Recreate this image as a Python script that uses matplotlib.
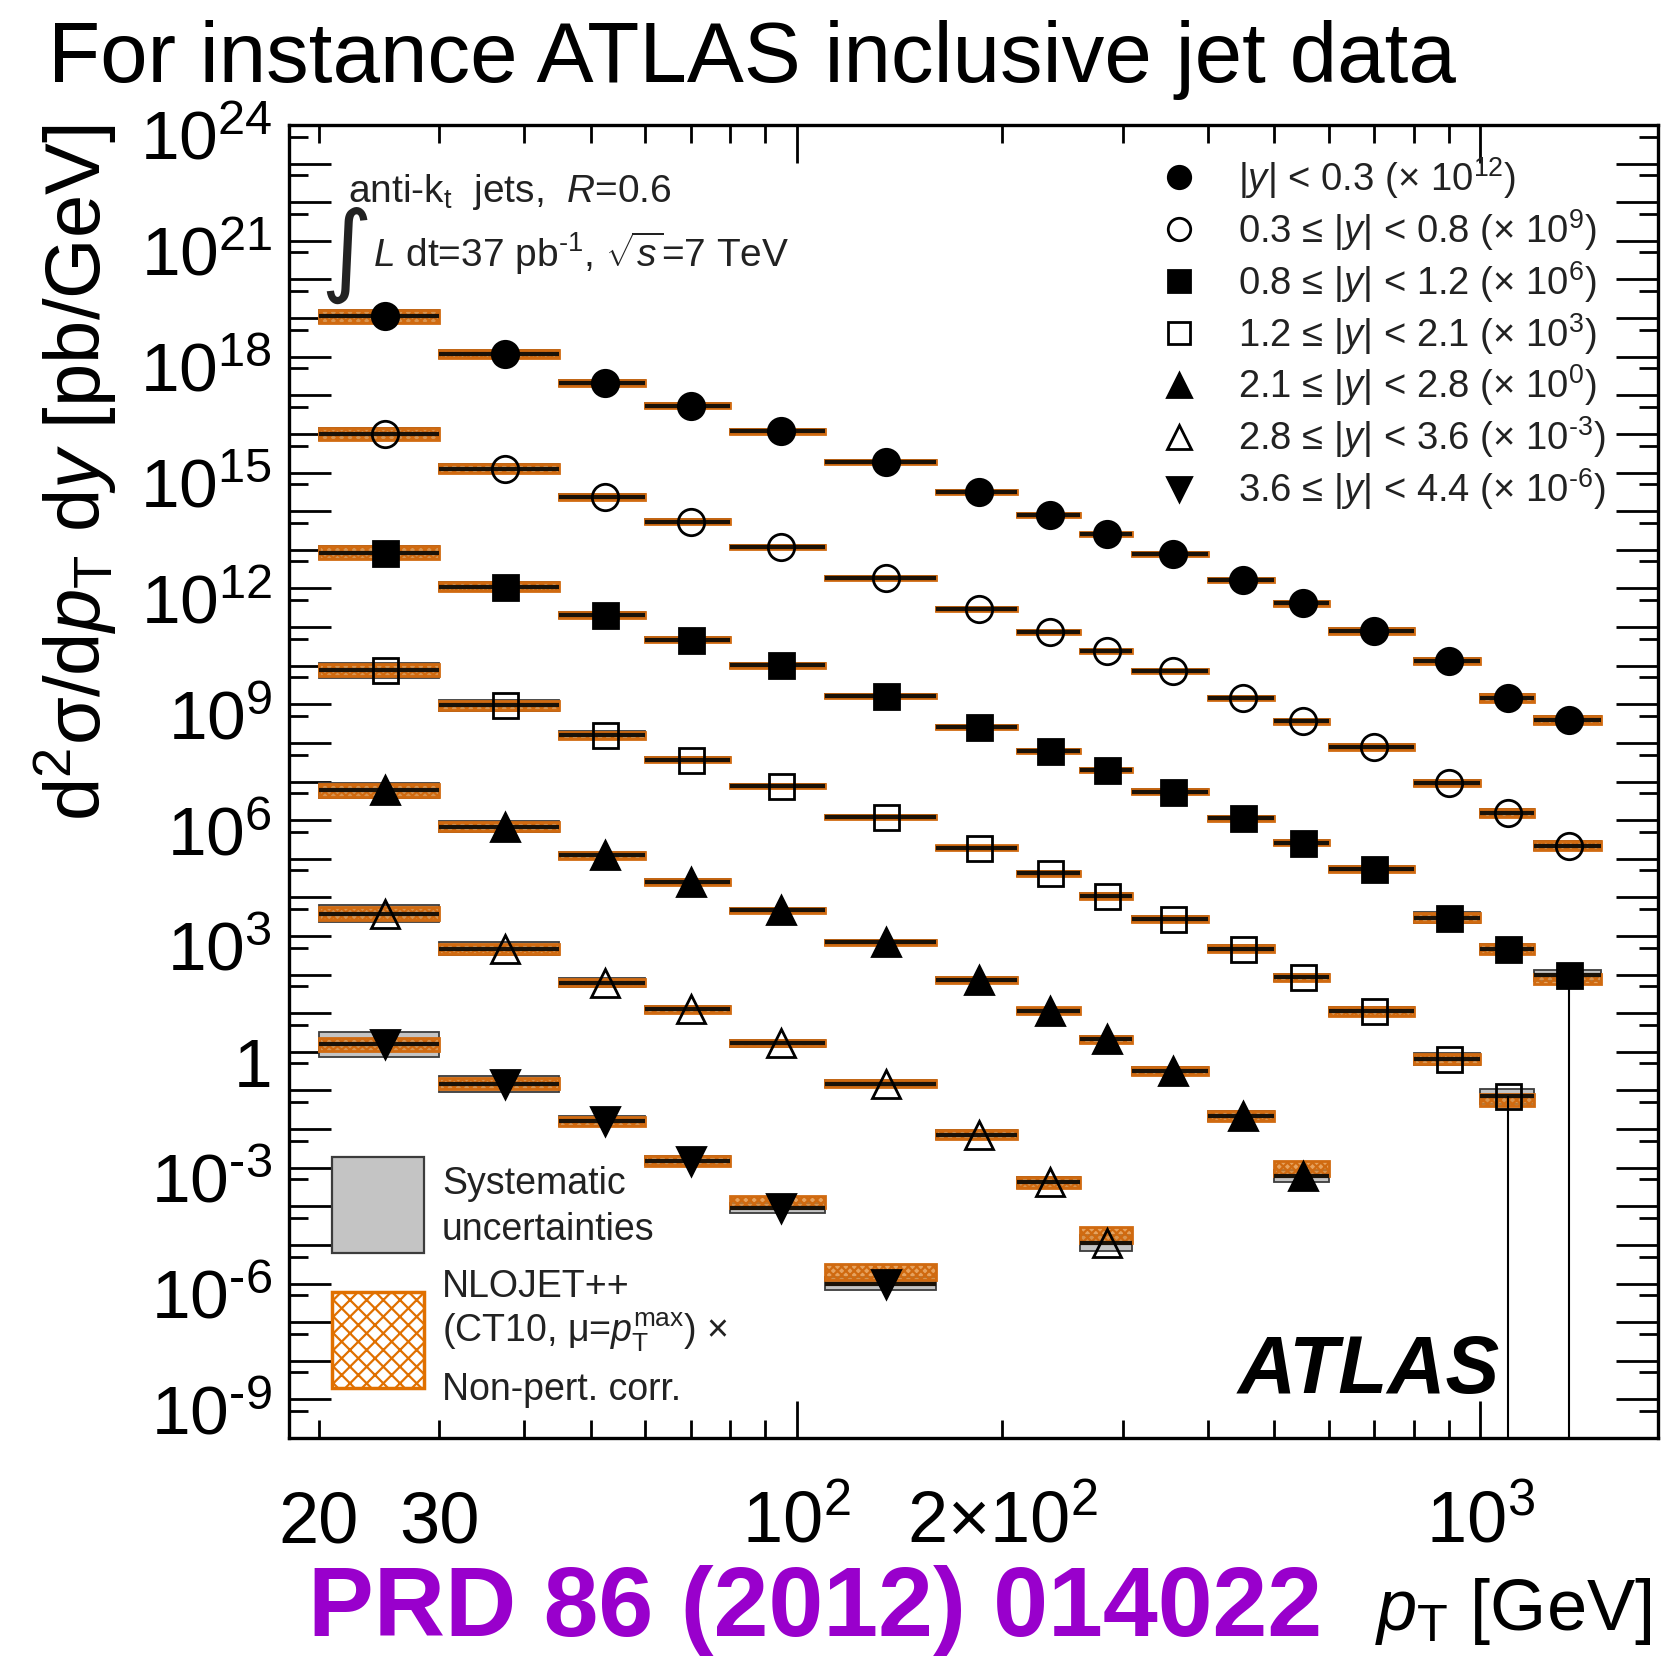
import numpy as np
import matplotlib
matplotlib.use("Agg")
import matplotlib.pyplot as plt
from matplotlib.patches import Rectangle
from matplotlib.ticker import FixedLocator, FuncFormatter
from matplotlib.transforms import ScaledTranslation

plt.rcParams['font.family'] = ['Liberation Sans', 'DejaVu Sans']
plt.rcParams['mathtext.fontset'] = 'custom'
plt.rcParams['mathtext.rm'] = 'Liberation Sans'
plt.rcParams['mathtext.it'] = 'Liberation Sans:italic'
plt.rcParams['mathtext.bf'] = 'Liberation Sans:bold'
plt.rcParams['hatch.linewidth'] = 1.6

# ---------------- data ----------------
bin_edges = [20, 30, 45, 60, 80, 110, 160, 210, 260, 310, 400, 500, 600, 800, 1000, 1200, 1500]

labels = [r'|$y$| < 0.3 (× 10$^{12}$)',
          r'0.3 ≤ |$y$| < 0.8 (× 10$^{9}$)',
          r'0.8 ≤ |$y$| < 1.2 (× 10$^{6}$)',
          r'1.2 ≤ |$y$| < 2.1 (× 10$^{3}$)',
          r'2.1 ≤ |$y$| < 2.8 (× 10$^{0}$)',
          r'2.8 ≤ |$y$| < 3.6 (× 10$^{\text{-3}}$)',
          r'3.6 ≤ |$y$| < 4.4 (× 10$^{\text{-6}}$)']
scale_factors = [1e12, 1e9, 1e6, 1e3, 1e0, 1e-3, 1e-6]

# d2sigma/dpT dy [pb/GeV] (unscaled), one value per pT bin starting at 20 GeV
xs_y00_03 = [1.1e7, 1.17e6, 2.1e5, 5.4e4, 1.17e4, 1.9e3, 3.2e2, 78, 25, 7.6, 1.66, 0.41, 0.079, 0.013, 1.45e-3, 3.9e-4]
xs_y03_08 = [1.0e7, 1.26e6, 2.3e5, 5.4e4, 1.17e4, 1.86e3, 2.95e2, 74, 23.4, 7.1, 1.45, 0.36, 0.079, 9.1e-3, 1.55e-3, 2.2e-4]
xs_y08_12 = [8.5e6, 1.12e6, 2.0e5, 4.7e4, 1.02e4, 1.66e3, 2.6e2, 62, 19.5, 5.5, 1.12, 0.26, 0.054, 2.95e-3, 4.7e-4, 9.5e-5]
xs_y12_21 = [7.6e6, 9.3e5, 1.58e5, 3.7e4, 7.6e3, 1.2e3, 1.9e2, 42, 11, 2.75, 0.47, 0.085, 0.0112, 6.5e-4, 7.1e-5]
xs_y21_28 = [5.9e6, 6.8e5, 1.23e5, 2.5e4, 4.6e3, 6.8e2, 74, 11.7, 2.1, 0.32, 0.022, 6.0e-4]
xs_y28_36 = [3.8e6, 4.7e5, 6.2e4, 1.26e4, 1.66e3, 1.5e2, 7.2, 0.42, 0.0112]
xs_y36_44 = [1.55e6, 1.5e5, 1.6e4, 1.5e3, 91, 1.0]
cross_sections = [xs_y00_03, xs_y03_08, xs_y08_12, xs_y12_21, xs_y21_28, xs_y28_36, xs_y36_44]

# relative systematic uncertainty (symmetric, fractional)
sys_unc = [
    [0.45, 0.30, 0.20, 0.16, 0.14, 0.12, 0.12, 0.12, 0.12, 0.12, 0.14, 0.14, 0.16, 0.20, 0.25, 0.30],
    [0.45, 0.30, 0.20, 0.16, 0.14, 0.12, 0.12, 0.12, 0.12, 0.12, 0.14, 0.14, 0.16, 0.20, 0.25, 0.30],
    [0.50, 0.30, 0.20, 0.16, 0.14, 0.12, 0.12, 0.12, 0.14, 0.14, 0.16, 0.18, 0.22, 0.40, 0.35, 0.40],
    [0.55, 0.40, 0.25, 0.18, 0.15, 0.15, 0.15, 0.16, 0.18, 0.20, 0.22, 0.25, 0.30, 0.45, 0.55],
    [0.55, 0.40, 0.25, 0.20, 0.18, 0.17, 0.18, 0.20, 0.24, 0.28, 0.35, 0.45],
    [0.70, 0.45, 0.30, 0.25, 0.22, 0.24, 0.30, 0.40, 0.60],
    [1.10, 0.60, 0.35, 0.30, 0.35, 0.45],
]
# theory (NLOJET++ x non-pert.) relative uncertainty and theory/data ratio
th_unc = [
    [0.45, 0.30, 0.20, 0.16, 0.14, 0.13, 0.13, 0.13, 0.13, 0.13, 0.14, 0.15, 0.18, 0.20, 0.25, 0.30],
    [0.45, 0.30, 0.20, 0.16, 0.14, 0.13, 0.13, 0.13, 0.13, 0.13, 0.14, 0.15, 0.18, 0.20, 0.25, 0.30],
    [0.45, 0.30, 0.20, 0.16, 0.14, 0.13, 0.13, 0.13, 0.14, 0.15, 0.16, 0.18, 0.22, 0.30, 0.35, 0.35],
    [0.45, 0.32, 0.22, 0.18, 0.15, 0.15, 0.16, 0.16, 0.18, 0.20, 0.22, 0.25, 0.30, 0.35, 0.40],
    [0.45, 0.32, 0.22, 0.20, 0.18, 0.18, 0.20, 0.22, 0.26, 0.30, 0.35, 0.55],
    [0.45, 0.35, 0.25, 0.22, 0.20, 0.24, 0.30, 0.40, 0.60],
    [0.50, 0.40, 0.32, 0.32, 0.45, 0.65],
]
th_ratio = [
    [1.0] * 16,
    [1.0] * 16,
    [1.0] * 15 + [0.8],
    [1.0] * 14 + [0.8],
    [1.0] * 11 + [1.6],
    [1.0] * 8 + [1.6],
    [1.0, 1.0, 1.0, 1.0, 1.4, 2.0],
]
# relative downward statistical error (only the visible ones are non-zero)
stat_lo = [
    [0.0] * 16,
    [0.0] * 16,
    [0.0] * 15 + [1.0],
    [0.0] * 14 + [1.0],
    [0.0] * 12,
    [0.0] * 9,
    [0.0] * 6,
]

markers = ['o', 'o', 's', 's', '^', '^', 'v']
filled = [True, False, True, False, True, False, True]

# ---------------- figure ----------------
W, H = 1666, 1657
fig = plt.figure(figsize=(W / 100, H / 100), dpi=100)
ax_l, ax_r, ax_t, ax_b = 289, 1658, 125, 1438
ax = fig.add_axes([ax_l / W, 1 - ax_b / H, (ax_r - ax_l) / W, (ax_b - ax_t) / H])
ax.set_xscale('log')
ax.set_yscale('log')
ax.set_xlim(18.1, 1820)
ax.set_ylim(1e-10, 1e24)

edges = np.array(bin_edges, dtype=float)
handles = []
for i in range(7):
    vals = np.array(cross_sections[i]) * scale_factors[i]
    n = len(vals)
    lo_e, hi_e = edges[:n], edges[1:n + 1]
    centers = 0.5 * (lo_e + hi_e)
    s = np.array(sys_unc[i])
    t = np.array(th_unc[i])
    r = np.array(th_ratio[i])
    for j in range(n):
        v = vals[j]
        ax.add_patch(Rectangle((lo_e[j], v / (1 + s[j])), hi_e[j] - lo_e[j],
                               v * (1 + s[j]) - v / (1 + s[j]),
                               facecolor='#c4c4c4', edgecolor='#3c3c3c', lw=1.3, zorder=2))
        tc = v * r[j]
        ax.add_patch(Rectangle((lo_e[j], tc / (1 + t[j])), hi_e[j] - lo_e[j],
                               tc * (1 + t[j]) - tc / (1 + t[j]),
                               facecolor=(0.88, 0.52, 0.16, 0.75), edgecolor='#d06a10',
                               hatch='xxxx', lw=2.0, zorder=3))
    ax.hlines(vals, lo_e, hi_e, colors='#1a1208', lw=3.0, zorder=4)
    sl = np.array(stat_lo[i])
    big = sl > 0
    if big.any():
        ax.vlines(centers[big], vals[big] * (1 - sl[big]) + 1e-30, vals[big],
                  colors='black', lw=1.5, zorder=4)
    ms = 19 if markers[i] == 'o' else (18 if markers[i] == 's' else 20)
    h, = ax.plot(centers, vals, linestyle='none', marker=markers[i], markersize=ms,
                 markerfacecolor='black' if filled[i] else 'none',
                 markeredgecolor='black', markeredgewidth=2, zorder=5, label=labels[i])
    handles.append(h)

# ---------------- axes style ----------------
for sp in ax.spines.values():
    sp.set_linewidth(2.4)

ax.xaxis.set_major_locator(FixedLocator([100, 1000]))
ax.xaxis.set_minor_locator(FixedLocator([20, 30, 40, 50, 60, 70, 80, 90,
                                         200, 300, 400, 500, 600, 700, 800, 900]))
xmaj = {100: r'$10^{2}$', 1000: r'$10^{3}$'}
xmin_lab = {20: '20', 30: '30', 200: r'$2{\times}10^{2}$'}
ax.xaxis.set_major_formatter(FuncFormatter(lambda v, p: xmaj.get(int(round(v)), '')))
ax.xaxis.set_minor_formatter(FuncFormatter(lambda v, p: xmin_lab.get(int(round(v)), '')))

ydec = list(range(-10, 25))
ax.yaxis.set_major_locator(FixedLocator([10.0 ** k for k in ydec]))
ax.yaxis.set_minor_locator(FixedLocator([5 * 10.0 ** k for k in range(-10, 24)]))


def yfmt(v, p):
    k = int(round(np.log10(v)))
    if k % 3 != 0 or k < -9:
        return ''
    if k == 0:
        return '1'
    if k < 0:
        return r'$10^{\text{-%d}}$' % (-k)
    return r'$10^{%d}$' % k


ax.yaxis.set_major_formatter(FuncFormatter(yfmt))
ax.yaxis.set_minor_formatter(FuncFormatter(lambda v, p: ''))

ax.tick_params(axis='both', which='both', direction='in', top=True, right=True, width=2)
ax.tick_params(axis='x', which='major', length=27, labelsize=52, pad=75)
ax.tick_params(axis='x', which='minor', length=13, labelsize=52, pad=75)
ax.tick_params(axis='y', which='major', length=30, labelsize=50, pad=12)
ax.tick_params(axis='y', which='minor', length=14)

for tk in ax.xaxis.get_major_ticks() + ax.xaxis.get_minor_ticks():
    tk.label1.set_verticalalignment('baseline')
ylab_shift = ScaledTranslation(0, -35 / 100, fig.dpi_scale_trans)
for tk in ax.yaxis.get_major_ticks():
    tk.label1.set_verticalalignment('baseline')
    tk.label1.set_transform(tk.label1.get_transform() + ylab_shift)

ax.set_ylabel(r'd$^{2}$σ/d$p_{\mathrm{T}}$ d$y$ [pb/GeV]', fontsize=56, loc='top')
ax.yaxis.set_label_coords(-0.124, 1.0)
ax.set_xlabel(r'$p_{\mathrm{T}}$ [GeV]', fontsize=52, loc='right')
ax.xaxis.set_label_coords(0.995, -0.105)

# ---------------- legend (rapidity bins) ----------------
leg = ax.legend(handles=handles, loc='upper left', bbox_to_anchor=(1160 / W, 1 - 155 / H),
                bbox_transform=fig.transFigure, frameon=False, fontsize=27.5,
                handlelength=1.0, handletextpad=1.05, labelspacing=0.16, borderpad=0,
                borderaxespad=0, markerscale=0.85)
for txt in leg.get_texts():
    txt.set_color('#222222')

# ---------------- key for bands ----------------
fig.add_artist(Rectangle((332 / W, 1 - 1253 / H), 92 / W, 96 / H, transform=fig.transFigure,
                         facecolor='#c4c4c4', edgecolor='#3c3c3c', lw=1.6))
fig.add_artist(Rectangle((332 / W, 1 - 1388 / H), 92 / W, 96 / H, transform=fig.transFigure,
                         facecolor='white', edgecolor='#e07000', hatch='xx', lw=2.5))
kx = 442 / W
kfs = 27
fig.text(kx, 1 - 1194 / H, 'Systematic', fontsize=kfs, va='baseline', color='#222222')
fig.text(kx, 1 - 1240 / H, 'uncertainties', fontsize=kfs, va='baseline', color='#222222')
fig.text(kx, 1 - 1297 / H, 'NLOJET++', fontsize=kfs, va='baseline', color='#222222')
fig.text(kx, 1 - 1342 / H, r'(CT10, μ=$p_{\mathrm{T}}^{\mathrm{max}}$) ×', fontsize=kfs,
         va='baseline', color='#222222')
fig.text(kx, 1 - 1400 / H, 'Non-pert. corr.', fontsize=kfs, va='baseline', color='#222222')

# ---------------- annotations ----------------
fig.text(348 / W, 1 - 202 / H, r'anti-k$_{\mathrm{t}}$  jets,  $R$=0.6', fontsize=28,
         va='baseline', color='#222222')
fig.text(346 / W, 1 - 255 / H, '∫', fontsize=72, ha='center', va='center',
         family=['DejaVu Sans'], color='#222222')
fig.text(373 / W, 1 - 267 / H, r'$L$ dt=37 pb$^{\text{-1}}$, $\sqrt{s}$=7 TeV', fontsize=28,
         va='baseline', color='#222222')
fig.text(1238 / W, 1 - 1393 / H, 'ATLAS', fontsize=58, weight='bold', style='italic',
         va='baseline')

fig.text(48 / W, 1 - 82 / H, 'For instance ATLAS inclusive jet data', fontsize=61.5,
         va='baseline')
fig.text(308 / W, 1 - 1636 / H, 'PRD 86 (2012) 014022', fontsize=71, weight='bold',
         color='#9900cc', va='baseline')

fig.savefig('out.png', dpi=100)
